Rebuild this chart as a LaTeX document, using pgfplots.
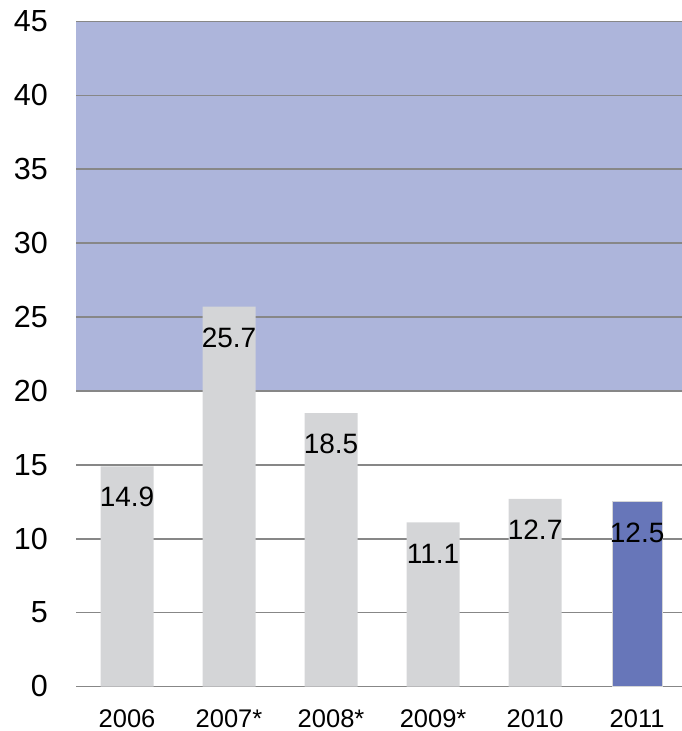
\documentclass[border=0pt]{standalone}
\usepackage{fontspec}
\setmainfont{Liberation Sans}
\usepackage{pgfplots}
\pgfplotsset{compat=1.18}

\definecolor{bandblue}{HTML}{ADB5DB}
\definecolor{bargrey}{HTML}{D4D5D7}
\definecolor{bardark}{HTML}{6776B9}
\definecolor{gridgrey}{HTML}{878787}

\begin{document}
\begin{tikzpicture}
\begin{axis}[
  set layers,
  at={(0,0)}, anchor=south west,
  scale only axis,
  width=606bp, height=665bp,
  xmin=-0.5, xmax=5.44,
  ymin=0, ymax=45,
  clip=true,
  axis line style={draw=none},
  major tick length=0pt,
  xtick={0,1,2,3,4,5},
  xticklabels={2006,2007*,2008*,2009*,2010,2011},
  ytick={0,5,...,45},
  ymajorgrids,
  grid style={gridgrey, line width=1.6bp},
  /pgf/number format/assume math mode=true,
  yticklabel style={anchor=east, inner sep=0pt, xshift=-28bp,
    font=\fontsize{30.5bp}{36bp}\selectfont},
  xticklabel style={anchor=base, inner sep=0pt, yshift=-40.5bp,
    font=\fontsize{25.5bp}{30bp}\selectfont},
  nodes near coords={\pgfmathprintnumber[fixed, precision=1, fixed zerofill]{\pgfplotspointmeta}},
  nodes near coords style={anchor=center, inner sep=0pt, yshift=-31bp,
    font=\fontsize{28bp}{33bp}\selectfont, text=black},
]
  % shaded band from 20 to 45, beneath the grid
  \addplot[on layer=axis background, fill=bandblue, draw=none, no marks,
    nodes near coords={}]
    coordinates {(-0.5,20) (-0.5,45) (5.44,45) (5.44,20)} -- cycle;

  % earlier years
  \addplot[ybar, bar width=53bp, bar shift=0pt, fill=bargrey, draw=none]
    coordinates {(0,14.9) (1,25.7) (2,18.5) (3,11.1) (4,12.7)};

  % latest year
  \addplot[ybar, bar width=50bp, bar shift=0pt, fill=bardark,
    draw=bargrey, line width=1bp]
    coordinates {(5,12.5)};
\end{axis}
\pgfresetboundingbox
\path (-76bp,-44.5bp) rectangle (606bp,686.5bp);
\end{tikzpicture}
\end{document}
